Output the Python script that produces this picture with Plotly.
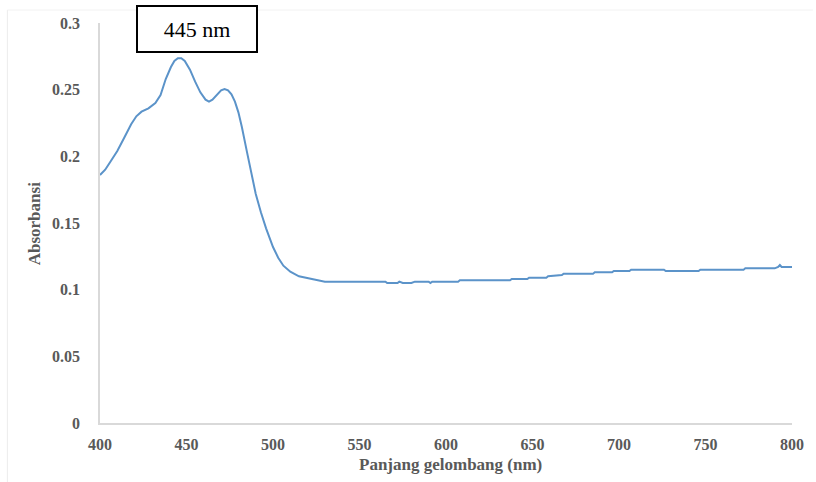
import plotly.graph_objects as go

wavelength = [400, 403, 406, 410, 414, 418, 421, 424, 428, 432, 435, 438, 441, 443, 445, 447, 449, 452,
              455, 458, 461, 463, 465, 468, 470, 472, 474, 476, 478, 480, 482, 485, 488, 490, 493, 496,
              500, 503, 506, 510, 515, 520, 525, 530, 565, 566, 572, 573, 575, 580, 582, 590,
              591, 592, 607, 608, 637, 638, 647, 648, 658, 659, 667, 668, 685, 686, 696, 697, 706, 707,
              726, 727, 746, 747, 772, 773, 790, 792, 793, 794, 800]
absorbance = [0.186, 0.190, 0.196, 0.204, 0.214, 0.224, 0.230, 0.2335, 0.236, 0.240, 0.246, 0.258, 0.267,
              0.2715, 0.2735, 0.2735, 0.2715, 0.265, 0.256, 0.248, 0.2425, 0.241, 0.2425, 0.2465, 0.2495,
              0.2505, 0.2495, 0.2465, 0.241, 0.233, 0.222, 0.203, 0.184, 0.172, 0.158, 0.146,
              0.132, 0.124, 0.118, 0.1135, 0.110, 0.1085, 0.107, 0.106,
              0.106, 0.105, 0.105, 0.106, 0.105, 0.105, 0.106, 0.106, 0.105, 0.106, 0.106,
              0.107, 0.107, 0.108, 0.108, 0.109, 0.109, 0.110, 0.111, 0.112, 0.112, 0.113, 0.113, 0.114,
              0.114, 0.115, 0.115, 0.114, 0.114, 0.115, 0.115, 0.116, 0.116, 0.117, 0.1185, 0.117, 0.117]

x_title = "Panjang gelombang (nm)"
y_title = "Absorbansi"
peak_label = "445 nm"

W, H = 816, 482
L, R, T, B = 100, 21, 23, 59
pw, ph = W - L - R, H - T - B

def px(xp):
    return (xp - L) / pw

def py(yp):
    return (H - B - yp) / ph

serif = "Liberation Serif, Times New Roman, serif"
gray = "#595959"

fig = go.Figure()
fig.add_trace(go.Scatter(x=wavelength, y=absorbance, mode="lines",
                         line=dict(color="#5b93c9", width=2), hoverinfo="skip", showlegend=False))

fig.update_layout(
    width=W, height=H,
    margin=dict(l=L, r=R, t=T, b=B),
    paper_bgcolor="white", plot_bgcolor="white",
    xaxis=dict(range=[400, 800], dtick=50, tick0=400, showgrid=False, zeroline=False,
               showline=True, linecolor="#d9d9d9", linewidth=1.5, ticks="",
               tickfont=dict(family=serif, size=16, color=gray, weight="bold"), ticklabelstandoff=6),
    yaxis=dict(range=[0, 0.3], dtick=0.05, showgrid=False, zeroline=False,
               showline=True, linecolor="#d9d9d9", linewidth=1.5, ticks="",
               tickfont=dict(family=serif, size=16, color=gray, weight="bold"), ticklabelstandoff=15),
    shapes=[
        dict(type="line", xref="paper", yref="paper", x0=px(7), x1=px(7), y0=py(10), y1=py(482),
             line=dict(color="#ececec", width=1)),
        dict(type="line", xref="paper", yref="paper", x0=px(7), x1=px(816), y0=py(10), y1=py(10),
             line=dict(color="#f2f2f2", width=1)),
    ],
    annotations=[
        dict(text=x_title, xref="paper", yref="paper", x=px(452), y=py(464), showarrow=False,
             xanchor="center", yanchor="middle",
             font=dict(family=serif, size=17, color=gray, weight="bold")),
        dict(text=y_title, xref="paper", yref="paper", x=px(35), y=py(224), showarrow=False,
             textangle=-90, xanchor="center", yanchor="middle",
             font=dict(family=serif, size=17, color=gray, weight="bold")),
        dict(text=peak_label, xref="paper", yref="paper", x=px(197), y=py(29), showarrow=False,
             xanchor="center", yanchor="middle", width=116, height=42, borderpad=1,
             bordercolor="black", borderwidth=2, bgcolor="white",
             font=dict(family=serif, size=22, color="black")),
    ],
)

fig.write_html("out.html")
